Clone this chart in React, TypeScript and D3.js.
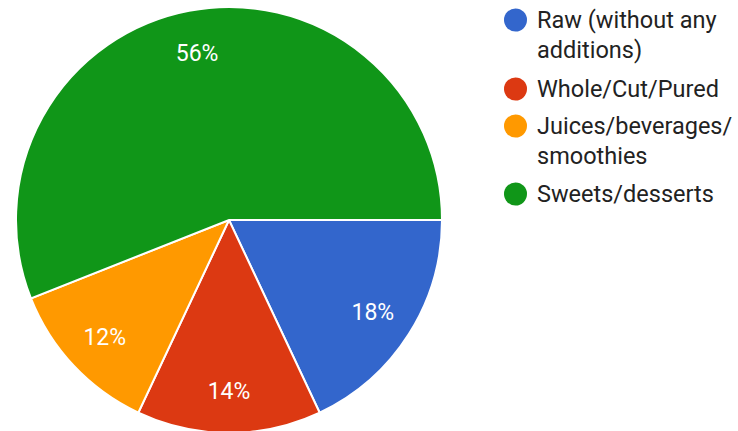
import React from "react";
import * as d3 from "d3";

const categories = ["Raw (without any additions)", "Whole/Cut/Pured", "Juices/beverages/ smoothies", "Sweets/desserts"];
const legendLines = [["Raw (without any", "additions)"], ["Whole/Cut/Pured"], ["Juices/beverages/", "smoothies"], ["Sweets/desserts"]];
const values = [18, 14, 12, 56];
const colors = ["#3366cc", "#dc3912", "#ff9900", "#109618"];

export default function App() {
  const W = 738, H = 431;
  const cx = 229, cy = 220, r = 213;
  const pie = d3.pie<number>().sort(null).startAngle(Math.PI / 2).endAngle(Math.PI / 2 + 2 * Math.PI)(values);
  const arc = d3.arc<d3.PieArcDatum<number>>().innerRadius(0).outerRadius(r);
  const labelArc = d3.arc<d3.PieArcDatum<number>>().innerRadius(r * 0.8).outerRadius(r * 0.8);
  const total = d3.sum(values);
  const legendY = [20, 89, 126, 194];
  return (
    <svg width={W} height={H} style={{ position: "absolute", left: 0, top: 0, background: "#fff" }} fontFamily="Roboto, sans-serif">
      <g transform={`translate(${cx},${cy})`}>
        {pie.map((d, i) => (
          <path key={i} d={arc(d) || ""} fill={colors[i]} stroke="#fff" strokeWidth={2} />
        ))}
        {pie.map((d, i) => {
          const [x, y] = labelArc.centroid(d);
          return (
            <text key={i} x={x} y={y} dy="0.36em" textAnchor="middle" fill="#fff" fontSize={23}>
              {Math.round((values[i] / total) * 100)}%
            </text>
          );
        })}
      </g>
      {categories.map((c, i) => (
        <g key={c} transform={`translate(515.5,${legendY[i]})`}>
          <circle r={11.5} fill={colors[i]} />
          {legendLines[i].map((l, j) => (
            <text key={j} x={21.5} y={j * 29.5} dy="0.36em" fontSize={23.5} fill="#222">{l}</text>
          ))}
        </g>
      ))}
    </svg>
  );
}
